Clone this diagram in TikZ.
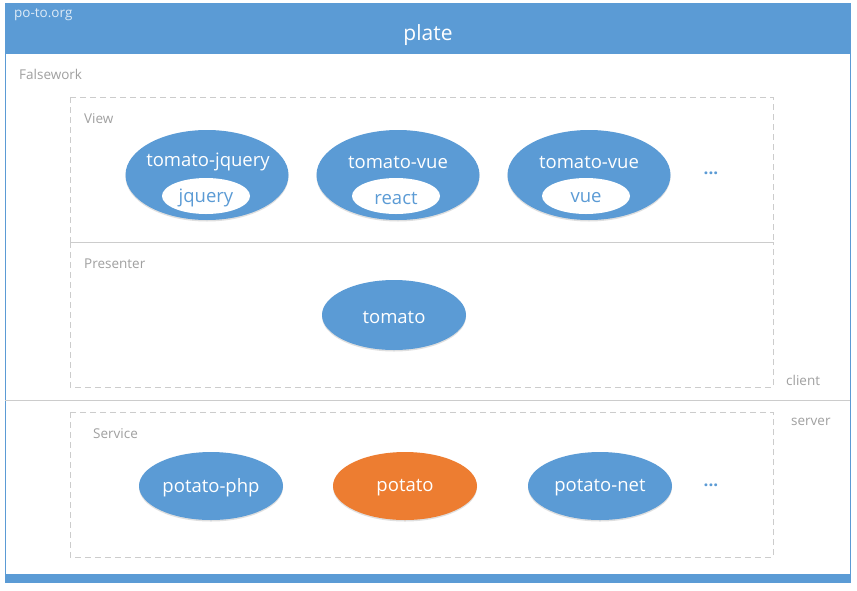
\documentclass[tikz,border=0pt]{standalone}
\usepackage{fontspec}
\setmainfont{Open Sans}
\usetikzlibrary{shapes.geometric,shadows}
\definecolor{mblue}{HTML}{5B9BD5}
\definecolor{morange}{HTML}{ED7D31}
\definecolor{dgray}{HTML}{CCCCCC}
\definecolor{tgray}{HTML}{A0A0A0}
\begin{document}
\begin{tikzpicture}[x=1pt,y=-1pt,
  big/.style={ellipse,fill=mblue,draw=none,minimum width=#1,minimum height=70,inner sep=0pt,
    drop shadow={shadow xshift=0pt,shadow yshift=-1.5pt,opacity=0.25,fill=gray}},
  big/.default=144,
  inner/.style={ellipse,fill=white,minimum width=88,minimum height=36,inner sep=0pt},
  itext/.style={text=mblue,font=\fontsize{18.5}{18.5}\selectfont,inner sep=0pt},
  etext/.style={text=white,font=\fontsize{18.5}{18.5}\selectfont,inner sep=0pt},
  lbl/.style={text=tgray,font=\fontsize{13.5}{14}\selectfont,inner sep=0pt,anchor=west},
  dbox/.style={draw=dgray,dashed,dash pattern=on 6pt off 4pt,line width=1pt},
  dots/.style={text=mblue,font=\fontsize{17}{17}\selectfont\bfseries,inner sep=0pt}]
\useasboundingbox (0,0) rectangle (857,590);
% outer frame
\draw[draw=mblue,line width=1pt,fill=white] (5,3) rectangle (850,582);
\fill[mblue] (5,3) rectangle (850,54);
\fill[mblue] (5,574) rectangle (850,582);
\node[text=white!80!mblue,font=\fontsize{13.5}{14}\selectfont,inner sep=0pt,anchor=west] (org) at (14,15) {po-to.org};
\node[text=white,font=\fontsize{21}{21}\selectfont,inner sep=0pt] (plate) at (428,35) {plate};
\node[lbl] (falsework) at (19,74) {Falsework};
% separator
\draw[draw=dgray,line width=1pt] (5,400) -- (850,400);
\node[lbl] (client) at (786,380) {client};
\node[lbl] (server) at (791,422) {server};
% dashed boxes
\draw[dbox] (70,97) rectangle (773,242);
\draw[dbox] (70,242) rectangle (773,387);
\draw[dbox] (70,412) rectangle (773,557);
\node[lbl] (view) at (84,119) {View};
\node[lbl] (presenter) at (84,264) {Presenter};
\node[lbl] (service) at (93,434) {Service};
% view ellipses
\node[big,minimum width=163,minimum height=90] (tj) at (207,175) {};
\node[etext] (tjt) at (208,162) {tomato-jquery};
\node[inner] (jq) at (206,196) {};
\node[itext] (jqt) at (206,198) {jquery};
\node[big,minimum width=163,minimum height=90] (tv1) at (398,175) {};
\node[etext] (tv1t) at (398,162) {tomato-vue};
\node[inner] (re) at (396,196) {};
\node[itext] (ret) at (396,198) {react};
\node[big,minimum width=163,minimum height=90] (tv2) at (589,175) {};
\node[etext] (tv2t) at (589,162) {tomato-vue};
\node[inner] (vu) at (586,196) {};
\node[itext] (vut) at (586,198) {vue};
\node[dots] (d1) at (711,173) {...};
% presenter
\node[big] (tomato) at (394,315) {};
\node[etext] (tomatot) at (394,317) {tomato};
% service
\node[big,minimum height=68] (php) at (211,486) {};
\node[etext] (phpt) at (211,488) {potato-php};
\node[big,minimum height=68,fill=morange] (potato) at (405,486) {};
\node[etext] (potatot) at (405,488) {potato};
\node[big,minimum height=68] (net) at (600,486) {};
\node[etext] (nett) at (600,488) {potato-net};
\node[dots] (d2) at (711,485) {...};
\end{tikzpicture}
\end{document}
